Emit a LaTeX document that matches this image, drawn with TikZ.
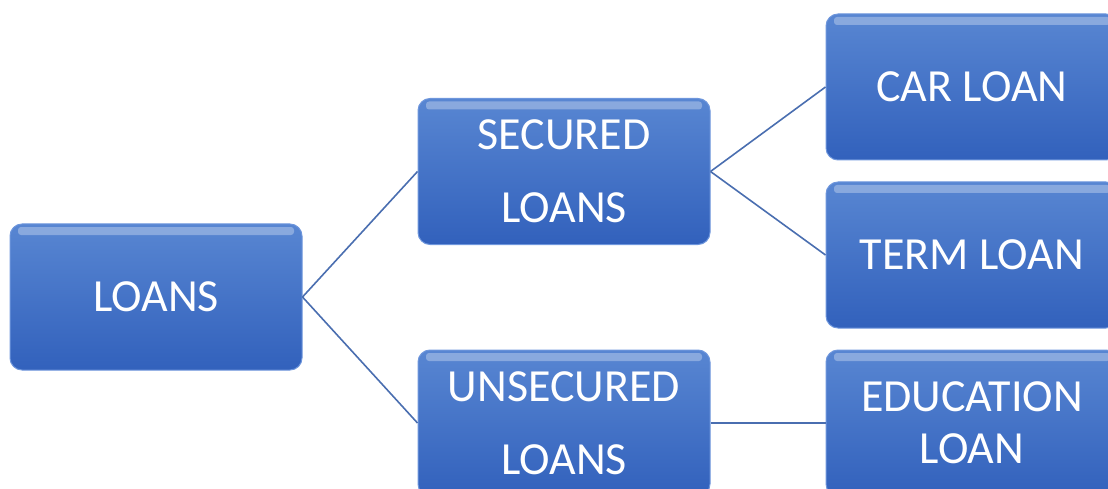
\documentclass[tikz,border=0pt]{standalone}
\usepackage{fontspec}
\setmainfont{Carlito}
\definecolor{boxtop}{RGB}{88,134,210}
\definecolor{boxbot}{RGB}{50,97,188}
\definecolor{boxedge}{RGB}{110,150,220}
\definecolor{linkblue}{RGB}{74,110,176}
\tikzset{
    loanbox/.style={rectangle, rounded corners=12pt, minimum width=292pt, minimum height=146pt,
        top color=boxtop, bottom color=boxbot, draw=boxedge, line width=1pt,
        text=white, align=center, font=\fontsize{46}{73}\selectfont, inner sep=0pt,
        path picture={\fill[white,opacity=0.3,rounded corners=3pt]
            ([xshift=8pt,yshift=-3pt]path picture bounding box.north west) rectangle
            ([xshift=-8pt,yshift=-11pt]path picture bounding box.north east);}},
    link/.style={draw=linkblue, line width=1.6pt}
}
\begin{document}
\begin{tikzpicture}[x=1pt,y=-1pt]
\useasboundingbox (0,0) rectangle (1108,489);
\clip (0,0) rectangle (1108,489);

\node[loanbox] (loans) at (156,297) {LOANS};
\node[loanbox] (secured) at (564,171.5) {SECURED\\LOANS};
\node[loanbox] (unsecured) at (564,423) {UNSECURED\\LOANS};
\node[loanbox] (car) at (972,87) {CAR LOAN};
\node[loanbox] (term) at (972,255) {TERM LOAN};
\node[loanbox, font=\fontsize{46}{52}\selectfont] (edu) at (972,423) {EDUCATION\\LOAN};

\draw[link] (loans.east) -- (secured.west);
\draw[link] (loans.east) -- (unsecured.west);
\draw[link] (secured.east) -- (car.west);
\draw[link] (secured.east) -- (term.west);
\draw[link] (unsecured.east) -- (edu.west);
\end{tikzpicture}
\end{document}
